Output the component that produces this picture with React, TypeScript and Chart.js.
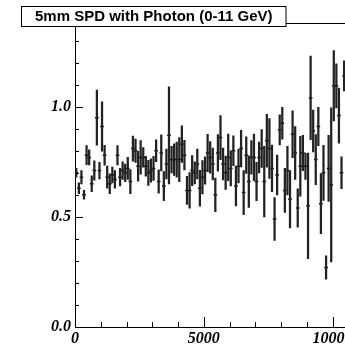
import React, { useEffect, useRef } from 'react';
import { Chart, registerables } from 'chart.js';

Chart.register(...registerables);

const TITLE = '5mm SPD with Photon (0-11 GeV)';

// bin centres (bin width 100)
const binCenters = [
  50, 150, 250, 350, 450, 550, 650, 750, 850, 950,
  1050, 1150, 1250, 1350, 1450, 1550, 1650, 1750, 1850, 1950,
  2050, 2150, 2250, 2350, 2450, 2550, 2650, 2750, 2850, 2950,
  3050, 3150, 3250, 3350, 3450, 3550, 3650, 3750, 3850, 3950,
  4050, 4150, 4250, 4350, 4450, 4550, 4650, 4750, 4850, 4950,
  5050, 5150, 5250, 5350, 5450, 5550, 5650, 5750, 5850, 5950,
  6050, 6150, 6250, 6350, 6450, 6550, 6650, 6750, 6850, 6950,
  7050, 7150, 7250, 7350, 7450, 7550, 7650, 7750, 7850, 7950,
  8050, 8150, 8250, 8350, 8450, 8550, 8650, 8750, 8850, 8950,
  9050, 9150, 9250, 9350, 9450, 9550, 9650, 9750, 9850, 9950,
  10050, 10150, 10250, 10350, 10450,
];

const ratio = [
  0.70, 0.63, 0.68, 0.60, 0.78, 0.77, 0.65, 0.71, 0.95, 0.71,
  0.91, 0.78, 0.68, 0.65, 0.69, 0.67, 0.78, 0.68, 0.71, 0.70,
  0.72, 0.66, 0.81, 0.80, 0.73, 0.77, 0.77, 0.73, 0.70, 0.71,
  0.72, 0.80, 0.66, 0.79, 0.64, 0.74, 0.87, 0.76, 0.76, 0.76,
  0.76, 0.83, 0.78, 0.62, 0.62, 0.71, 0.70, 0.74, 0.63, 0.68,
  0.71, 0.79, 0.77, 0.74, 0.60, 0.79, 0.86, 0.74, 0.70, 0.77,
  0.72, 0.80, 0.64, 0.73, 0.81, 0.61, 0.78, 0.66, 0.77, 0.77,
  0.66, 0.77, 0.81, 0.66, 0.845, 0.81, 0.72, 0.49, 0.69, 0.895,
  0.925, 0.62, 0.71, 0.58, 0.875, 0.79, 0.54, 0.73, 0.79, 0.73,
  0.55, 1.04, 0.89, 0.76, 0.91, 0.56, 0.70, 0.27, 0.72, 0.645,
  1.095, 1.095, 0.96, 0.70, 1.14,
];

const ratioErr = [
  0.02, 0.025, 0.03, 0.02, 0.043, 0.034, 0.036, 0.044, 0.125, 0.038,
  0.112, 0.045, 0.05, 0.045, 0.036, 0.04, 0.044, 0.04, 0.04, 0.04,
  0.05, 0.055, 0.057, 0.053, 0.068, 0.076, 0.045, 0.045, 0.057, 0.053,
  0.055, 0.05, 0.053, 0.082, 0.066, 0.068, 0.22, 0.06, 0.072, 0.08,
  0.1, 0.083, 0.067, 0.064, 0.081, 0.068, 0.05, 0.068, 0.081, 0.076,
  0.062, 0.085, 0.072, 0.072, 0.076, 0.083, 0.1, 0.072, 0.076, 0.106,
  0.08, 0.068, 0.09, 0.076, 0.083, 0.1, 0.083, 0.117, 0.076, 0.106,
  0.087, 0.07, 0.086, 0.16, 0.12, 0.136, 0.106, 0.097, 0.09, 0.068,
  0.072, 0.1, 0.11, 0.13, 0.106, 0.12, 0.087, 0.136, 0.08, 0.06,
  0.24, 0.19, 0.095, 0.114, 0.087, 0.136, 0.125, 0.053, 0.15, 0.35,
  0.16, 0.1, 0.125, 0.072, 0.068,
];

const xTicks = [0, 1000, 2000, 3000, 4000, 5000, 6000, 7000, 8000, 9000, 10000, 11000];
const xLabelTicks = [0, 5000, 10000];
const yTicks = [0, 0.1, 0.2, 0.3, 0.4, 0.5, 0.6, 0.7, 0.8, 0.9, 1.0, 1.1, 1.2, 1.3];
const yLabelTicks = [0, 0.5, 1.0];

const X_MIN = 0;
const X_MAX = 11000;
const Y_MIN = 0;
const Y_MAX = 1.38;

const isLabelled = (list: number[], v: number) => list.some((t) => Math.abs(t - v) < 1e-9);

const rootFrame = {
  id: 'rootFrame',
  afterDraw(chart: any) {
    const { ctx, chartArea: a, scales } = chart;
    const x = scales.x;
    const y = scales.y;
    ctx.save();
    ctx.strokeStyle = '#000';
    ctx.lineWidth = 1;
    // top frame line
    ctx.beginPath();
    ctx.moveTo(a.left, a.top + 0.5);
    ctx.lineTo(a.right, a.top + 0.5);
    ctx.stroke();
    // inner ticks on x axis
    ctx.beginPath();
    xTicks.forEach((v) => {
      const px = Math.round(x.getPixelForValue(v)) + 0.5;
      const len = isLabelled(xLabelTicks, v) ? 10 : 5;
      ctx.moveTo(px, a.bottom);
      ctx.lineTo(px, a.bottom - len);
    });
    // inner ticks on y axis
    yTicks.forEach((v) => {
      const py = Math.round(y.getPixelForValue(v)) + 0.5;
      const len = isLabelled(yLabelTicks, v) ? 8 : 4;
      ctx.moveTo(a.left, py);
      ctx.lineTo(a.left + len, py);
    });
    ctx.stroke();
    // title box
    const bx = 21.5, by = 6.5, bw = 264.5, bh = 20;
    ctx.fillStyle = '#fff';
    ctx.fillRect(bx, by, bw, bh);
    ctx.strokeRect(bx, by, bw, bh);
    ctx.fillStyle = '#000';
    ctx.font = 'bold 15px "Liberation Sans", Arial, sans-serif';
    ctx.textAlign = 'center';
    ctx.textBaseline = 'alphabetic';
    ctx.fillText(TITLE, bx + bw / 2, 21);
    ctx.restore();
  },
};

export default function App() {
  const ref = useRef<HTMLCanvasElement | null>(null);

  useEffect(() => {
    if (!ref.current) return;
    const errBars = binCenters.map((c, i) => ({ x: c, y: [ratio[i] - ratioErr[i], ratio[i] + ratioErr[i]] }));
    const points = binCenters.map((c, i) => ({ x: c, y: ratio[i] }));
    const tickFont = { family: '"Liberation Serif", "Times New Roman", serif', size: 16, style: 'italic' as const, weight: 'bold' as const, lineHeight: 1 };

    const chart = new Chart(ref.current, {
      type: 'bar',
      data: {
        datasets: [
          {
            type: 'bar',
            data: errBars as any,
            backgroundColor: '#222',
            borderWidth: 0,
            barThickness: 1.6,
            grouped: false,
          } as any,
          {
            type: 'scatter',
            data: points,
            pointStyle: 'line',
            pointRadius: 1.8,
            pointBorderWidth: 1.5,
            borderColor: '#000',
            backgroundColor: '#000',
            pointHoverRadius: 0,
          } as any,
        ],
      },
      options: {
        animation: false,
        responsive: false,
        devicePixelRatio: 1,
        events: [],
        layout: { padding: { top: 23, left: 0, right: 21.75, bottom: 0 } },
        plugins: { legend: { display: false }, tooltip: { enabled: false }, title: { display: false } },
        scales: {
          x: {
            type: 'linear',
            min: X_MIN,
            max: X_MAX,
            offset: false,
            grid: { display: false, drawTicks: false },
            border: { display: true, color: '#000', width: 1 },
            afterBuildTicks: (axis: any) => {
              axis.ticks = xTicks.map((v) => ({ value: v }));
            },
            afterFit: (axis: any) => {
              axis.height = 19;
            },
            ticks: {
              autoSkip: false,
              maxRotation: 0,
              minRotation: 0,
              padding: 4,
              color: '#000',
              font: tickFont,
              callback: (v: any) => (isLabelled(xLabelTicks, Number(v)) ? String(v) : ''),
            },
          },
          y: {
            type: 'linear',
            min: Y_MIN,
            max: Y_MAX,
            grid: { display: false, drawTicks: false },
            border: { display: true, color: '#000', width: 1 },
            afterBuildTicks: (axis: any) => {
              axis.ticks = yTicks.map((v) => ({ value: v }));
            },
            afterFit: (axis: any) => {
              axis.width = 75;
            },
            ticks: {
              autoSkip: false,
              padding: 4,
              color: '#000',
              font: tickFont,
              callback: (v: any) => (isLabelled(yLabelTicks, Number(v)) ? Number(v).toFixed(1) : ''),
            },
          },
        },
      },
      plugins: [rootFrame],
    });
    return () => chart.destroy();
  }, []);

  return (
    <div style={{ position: 'fixed', left: 0, top: 0, width: 345, height: 346, overflow: 'hidden', background: '#fff' }}>
      <canvas ref={ref} width={380} height={346} style={{ display: 'block', width: 380, height: 346 }} />
    </div>
  );
}
